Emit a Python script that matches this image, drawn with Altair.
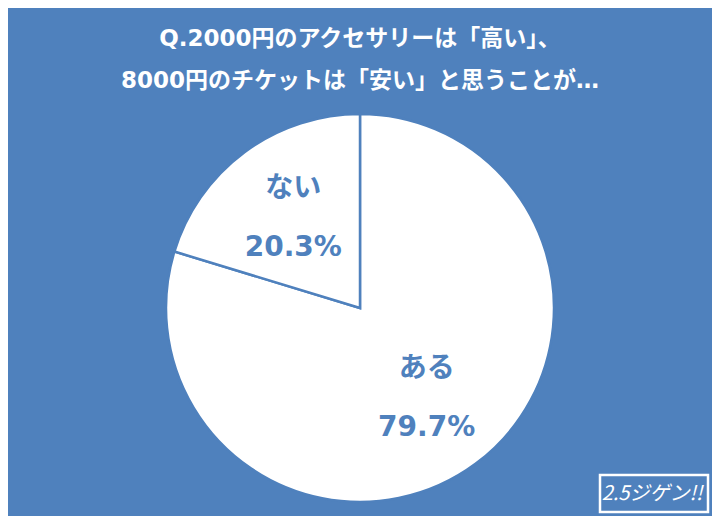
import altair as alt
import pandas as pd

labels = ["ある", "ない"]
values = [79.7, 20.3]
pct_labels = ["79.7%", "20.3%"]
order = [1, 2]

title_lines = ["Q.2000円のアクセサリーは「高い」、", "8000円のチケットは「安い」と思うことが…"]
logo_text = ["2.5ジゲン!!"]

BLUE = "#4F81BD"
FONT = "Noto Sans CJK JP"
MIXED = "DejaVu Sans, Noto Sans CJK JP"

df = pd.DataFrame({"label": labels, "value": values, "pct": pct_labels, "order": order})

base = alt.Chart(df).encode(
    theta=alt.Theta("value:Q", stack=True),
    order=alt.Order("order:Q"),
)

pie = base.mark_arc(radius=194, stroke=BLUE, strokeWidth=2.5, fill="white")

name_text = base.mark_text(radius=112, dy=-29, font=FONT, fontSize=28, fontWeight="bold", color=BLUE).encode(
    text="label:N"
)
pct_text = base.mark_text(radius=112, dy=30, font=MIXED, fontSize=28, fontWeight="bold", color=BLUE).encode(
    text="pct:N"
)

logo_df = pd.DataFrame({"t": logo_text})
logo_box = alt.Chart(logo_df).mark_rect(fill=None, stroke="white", strokeWidth=2.5).encode(
    x=alt.value(592), x2=alt.value(700), y=alt.value(375), y2=alt.value(412)
)
logo = alt.Chart(logo_df).mark_text(font=FONT, fontSize=20, fontStyle="italic", color="white", fontWeight="normal").encode(
    x=alt.value(644), y=alt.value(394), text="t:N"
)

chart = alt.layer(pie, name_text, pct_text, logo_box, logo).properties(
    width=704,
    height=416,
    padding={"top": 92, "left": 0, "right": 0, "bottom": 0},
    autosize=alt.AutoSizeParams(type="none"),
    background=BLUE,
    title=alt.TitleParams(
        text=title_lines,
        font=MIXED,
        fontSize=23,
        fontWeight="bold",
        color="white",
        anchor="middle",
        lineHeight=42,
        offset=7,
    ),
).configure_view(stroke=None)

chart.save("out.html", embed_options={"renderer": "svg", "actions": False})
